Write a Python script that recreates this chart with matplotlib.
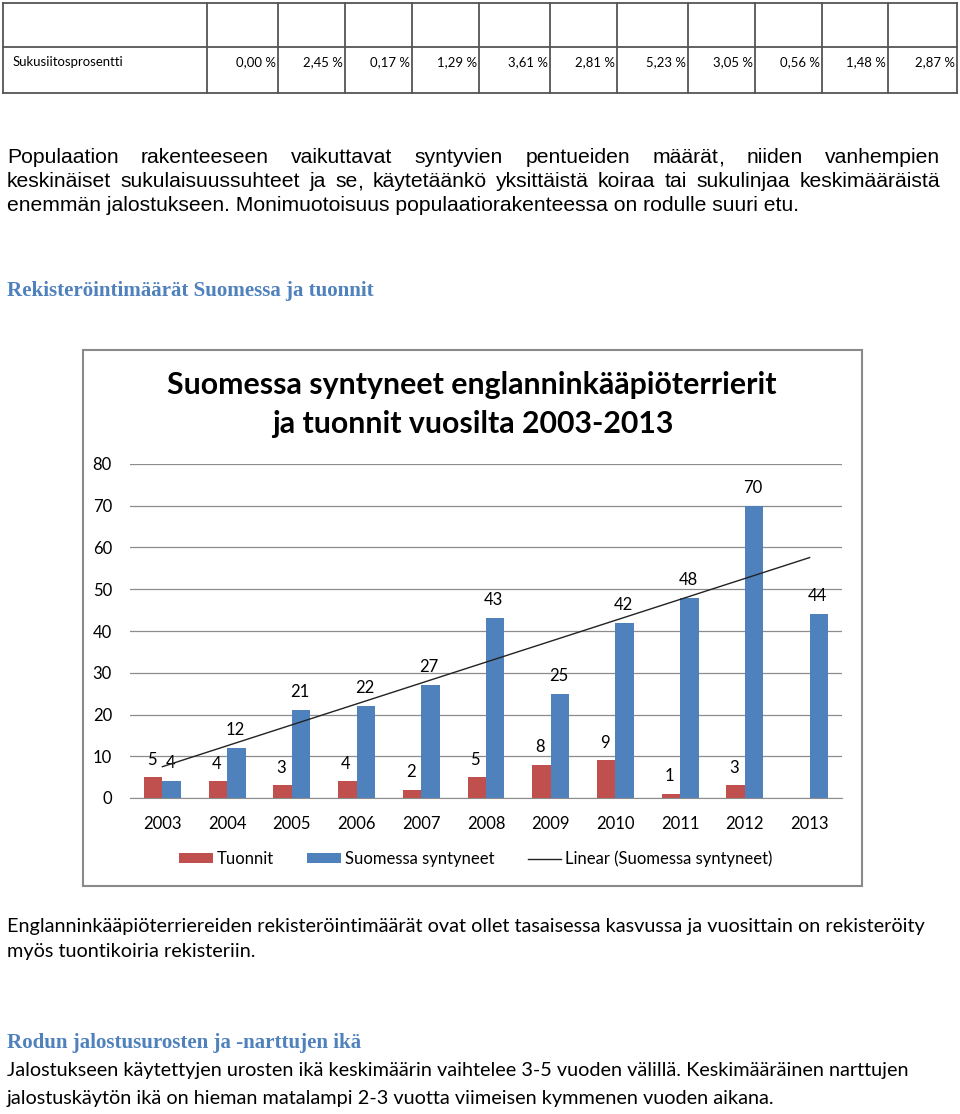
import numpy as np
import matplotlib
matplotlib.use('Agg')
import matplotlib.pyplot as plt
from matplotlib.patches import Rectangle, Patch
from matplotlib.lines import Line2D

# table data
table_label = 'Sukusiitosprosentti'
table_values = ['0,00 %', '2,45 %', '0,17 %', '1,29 %', '3,61 %', '2,81 %',
                '5,23 %', '3,05 %', '0,56 %', '1,48 %', '2,87 %']

# chart data
years = ['2003', '2004', '2005', '2006', '2007', '2008', '2009', '2010', '2011', '2012', '2013']
tuonnit = [5, 4, 3, 4, 2, 5, 8, 9, 1, 3]          # 2003-2012, none for 2013
suomessa = [4, 12, 21, 22, 27, 43, 25, 42, 48, 70, 44]

chart_title = ['Suomessa syntyneet englanninkääpiöterrierit',
               'ja tuonnit vuosilta 2003-2013']

para1 = ['Populaation rakenteeseen vaikuttavat syntyvien pentueiden määrät, niiden vanhempien',
         'keskinäiset sukulaisuussuhteet ja se, käytetäänkö yksittäistä koiraa tai sukulinjaa keskimääräistä',
         'enemmän jalostukseen. Monimuotoisuus populaatiorakenteessa on rodulle suuri etu.']
heading1 = 'Rekisteröintimäärät Suomessa ja tuonnit'
para2 = ['Englanninkääpiöterriereiden rekisteröintimäärät ovat ollet tasaisessa kasvussa ja vuosittain on rekisteröity',
         'myös tuontikoiria rekisteriin.']
heading2 = 'Rodun jalostusurosten ja -narttujen ikä'
para3 = ['Jalostukseen käytettyjen urosten ikä keskimäärin vaihtelee 3-5 vuoden välillä. Keskimääräinen narttujen',
         'jalostuskäytön ikä on hieman matalampi 2-3 vuotta viimeisen kymmenen vuoden aikana.']

RED = '#C0504D'
BLUE = '#4F81BD'
HEAD = '#4F81BD'
ARIAL = 'Liberation Sans'
CALIBRI = 'Lato'
CAMBRIA = 'Liberation Serif'

W, H = 960, 1114
fig = plt.figure(figsize=(W / 100, H / 100), dpi=100)
ov = fig.add_axes([0, 0, 1, 1])
ov.set_xlim(0, W)
ov.set_ylim(H, 0)
ov.axis('off')
renderer = fig.canvas.get_renderer()


def width_of(s, **kw):
    t = ov.text(0, 0, s, **kw)
    w = t.get_window_extent(renderer).width
    t.remove()
    return w


def fit(s, target, **kw):
    return 10 * target / width_of(s, fontsize=10, **kw)


def justify(line, x0, x1, y, **kw):
    words = line.split()
    ws = [width_of(w, **kw) for w in words]
    gap = (x1 - x0 - sum(ws)) / (len(words) - 1)
    x = x0
    for w, wd in zip(words, ws):
        # trailing comma drawn on its own so the word keeps the line's baseline
        if w.endswith(','):
            ov.text(x, y, w[:-1], ha='left', va='baseline', **kw)
            ov.text(x + width_of(w[:-1], **kw), y, ',', ha='left', va='baseline', **kw)
        else:
            ov.text(x, y, w, ha='left', va='baseline', **kw)
        x += wd + gap


# ---- table ----
col_x = [3, 207, 278, 345, 412, 479, 550, 617, 688, 755, 822, 888, 957]
for yy in [3, 47, 93]:
    ov.plot([3, 957], [yy, yy], color='#555555', lw=1.3)
for xx in col_x:
    ov.plot([xx, xx], [3, 93], color='#555555', lw=1.3)
tsize = fit(table_label, 111, family=CALIBRI)
ov.text(13, 66, table_label, family=CALIBRI, fontsize=tsize, va='baseline')
for i, v in enumerate(table_values):
    ov.text(col_x[i + 2] - 2, 66, v, family=CALIBRI, fontsize=tsize, ha='right', va='baseline')

# ---- paragraph 1 (justified) ----
p1size = fit(para1[2], 797, family=ARIAL)
justify(para1[0], 7, 940, 163, family=ARIAL, fontsize=p1size)
justify(para1[1], 7, 940, 187, family=ARIAL, fontsize=p1size)
ov.text(7, 211, para1[2], family=ARIAL, fontsize=p1size, va='baseline')

# ---- headings and other text ----
hsize = fit(heading1, 369, family=CAMBRIA, weight='bold')
ov.text(7, 296, heading1, family=CAMBRIA, weight='bold', fontsize=hsize, color=HEAD, va='baseline')
ov.text(7, 1048, heading2, family=CAMBRIA, weight='bold', fontsize=hsize, color=HEAD, va='baseline')

bsize = fit(para2[0], 923, family=CALIBRI)
ov.text(7, 932, para2[0], family=CALIBRI, fontsize=bsize, va='baseline')
ov.text(7, 957, para2[1], family=CALIBRI, fontsize=bsize, va='baseline')
ov.text(7, 1076, para3[0], family=CALIBRI, fontsize=bsize, va='baseline')
ov.text(7, 1104, para3[1], family=CALIBRI, fontsize=bsize, va='baseline')

# ---- chart frame and title ----
ov.add_patch(Rectangle((83, 350), 779, 536, fill=False, edgecolor='#8a8a8a', lw=1.5))
ctsize = fit(chart_title[0], 608, family=CALIBRI, weight='bold')
ov.text(472, 394, chart_title[0], family=CALIBRI, weight='bold', fontsize=ctsize, ha='center', va='baseline')
ov.text(473, 433, chart_title[1], family=CALIBRI, weight='bold', fontsize=ctsize, ha='center', va='baseline')

# ---- bar chart ----
ax = fig.add_axes([130 / W, 1 - 798 / H, 712 / W, 334 / H])
ax.patch.set_visible(False)
x = np.arange(len(years))
bw = 1 / 3.5
small = 12

ax.bar(x[:len(tuonnit)] - bw / 2, tuonnit, bw, color=RED, zorder=3)
ax.bar(x + bw / 2, suomessa, bw, color=BLUE, zorder=3)
for xi, v in zip(x, tuonnit):
    ax.annotate(str(v), (xi - bw / 2, v), xytext=(-1, 12.5), textcoords='offset points',
                ha='center', va='center', family=CALIBRI, fontsize=small)
for xi, v in zip(x, suomessa):
    ax.annotate(str(v), (xi + bw / 2, v), xytext=(-1, 13), textcoords='offset points',
                ha='center', va='center', family=CALIBRI, fontsize=small)

k, b = np.polyfit(x, suomessa, 1)
ax.plot([x[0], x[-1]], [k * x[0] + b, k * x[-1] + b], color='#222222', lw=1.0, zorder=4)

ax.set_xlim(-0.5, len(years) - 0.5)
ax.set_ylim(0, 80)
ax.set_yticks(range(0, 81, 10))
ax.set_xticks(x)
ax.set_xticklabels(years)
ax.tick_params(axis='both', length=0, labelsize=small)
ax.tick_params(axis='y', pad=13)
ax.tick_params(axis='x', pad=13)
for lab in ax.get_xticklabels() + ax.get_yticklabels():
    lab.set_family(CALIBRI)
ax.grid(axis='y', color='#8c8c8c', lw=0.9, zorder=0)
for s in ['top', 'right', 'left']:
    ax.spines[s].set_visible(False)
ax.spines['bottom'].set_color('#8c8c8c')

handles = [Patch(facecolor=RED), Patch(facecolor=BLUE), Line2D([0], [0], color='#222222', lw=1.0)]
labels = ['Tuonnit', 'Suomessa syntyneet', 'Linear (Suomessa syntyneet)']
fig.legend(handles, labels, loc='center', bbox_to_anchor=(476 / W, 1 - 859 / H), ncol=3,
           frameon=False, prop={'family': CALIBRI, 'size': small}, handlelength=2.0,
           handleheight=0.55, handletextpad=0.25, columnspacing=2.0)

fig.savefig('out.png', dpi=100)
